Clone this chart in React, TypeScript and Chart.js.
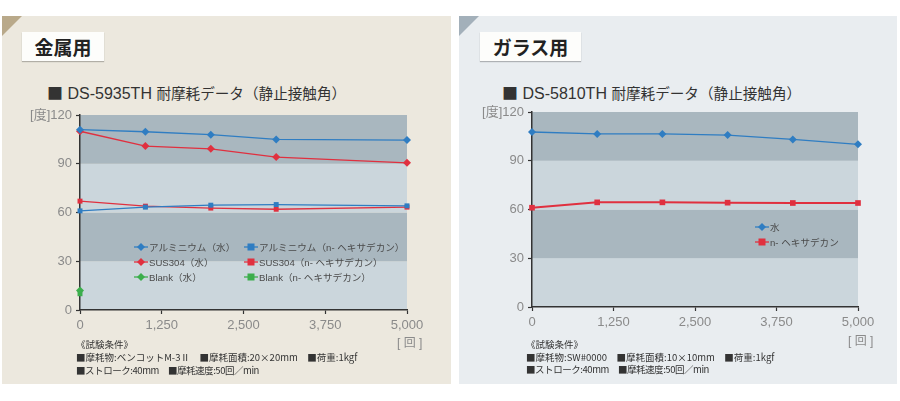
import React, { useEffect, useRef } from "react";
import { Chart, registerables } from "chart.js";
Chart.register(...registerables);

// ---------- data ----------
const Y_TICKS = [0, 30, 60, 90, 120];
const X_MAX = 5000;
const X_STEP = 1250;

// metal (DS-5935TH)
const metalCycles = [0, 1000, 2000, 3000, 5000];
const alWater = [111, 109.7, 107.9, 105, 104.6];
const alHex = [61, 63.3, 64.5, 64.9, 64.1];
const susWater = [110, 100.9, 99.2, 94.1, 90.6];
const susHex = [67, 63.9, 62.7, 62, 63.3];
const blankCycles = [0];
const blankWater = [12];
const blankHex = [10];

// glass (DS-5810TH)
const glassCycles = [0, 1000, 2000, 3000, 4000, 5000];
const glassWater = [107.7, 106.5, 106.5, 105.8, 103.1, 100.1];
const glassHex = [61.1, 64.4, 64.4, 64.2, 64, 64];

const metalLabels = [
  "アルミニウム（水）",
  "アルミニウム（n- ヘキサデカン）",
  "SUS304（水）",
  "SUS304（n- ヘキサデカン）",
  "Blank（水）",
  "Blank（n- ヘキサデカン）",
];
const glassLabels = ["水", "n- ヘキサデカン"];

// ---------- styles ----------
const BLUE = "#2f7dc2";
const RED = "#e0303f";
const GREEN = "#3cae4c";
const BAND_DARK = "#a9b7bf";
const BAND_LIGHT = "#cbd6dc";
const FONT = '"Liberation Sans", "Noto Sans CJK JP", sans-serif';
const JP = '"Noto Sans CJK JP", "Liberation Sans", sans-serif';

const pts = (xs: number[], ys: number[]) => xs.map((x, i) => ({ x, y: ys[i] }));

const bandPlugin = {
  id: "bands",
  beforeDraw(chart: any) {
    const { ctx, chartArea, scales } = chart;
    const y = scales.y;
    ctx.save();
    for (let i = 0; i < Y_TICKS.length - 1; i++) {
      const top = y.getPixelForValue(Y_TICKS[i + 1]);
      const bot = y.getPixelForValue(Y_TICKS[i]);
      ctx.fillStyle = i % 2 === 0 ? BAND_LIGHT : BAND_DARK;
      ctx.fillRect(chartArea.left, top, chartArea.right - chartArea.left, bot - top);
    }
    ctx.restore();
  },
};

function ds(label: string, xs: number[], ys: number[], color: string, style: string, width = 1.3, radius = 4) {
  return {
    label,
    data: pts(xs, ys),
    borderColor: color,
    backgroundColor: color,
    borderWidth: width,
    pointStyle: style,
    pointRadius: radius,
    pointBorderWidth: 0,
    pointBackgroundColor: color,
    clip: false as any,
    tension: 0,
  };
}

function makeOptions(yWidth: number, padRight: number, padTop: number, padBottom: number) {
  return {
    responsive: false,
    animation: false as const,
    layout: { padding: { left: 0, right: padRight, top: padTop, bottom: padBottom } },
    plugins: { legend: { display: false }, tooltip: { enabled: false } },
    scales: {
      x: {
        type: "linear" as const,
        min: 0,
        max: X_MAX,
        afterFit: (s: any) => {
          s.height = 30;
        },
        ticks: {
          stepSize: X_STEP,
          color: "#8a8a8a",
          font: { family: FONT, size: 13 },
          padding: 4,
          maxRotation: 0,
          callback: (v: any) => Number(v).toLocaleString("en-US"),
        },
        grid: { drawOnChartArea: false, drawTicks: true, tickLength: 4, tickColor: "#333", tickWidth: 1.2 },
        border: { color: "#333", width: 1.5 },
      },
      y: {
        type: "linear" as const,
        min: 0,
        max: 120,
        afterFit: (s: any) => {
          s.width = yWidth;
        },
        ticks: {
          stepSize: 30,
          color: "#8a8a8a",
          font: { family: FONT, size: 13 },
          padding: 4,
          callback: (v: any) => (v === 120 ? "[度]120" : String(v)),
        },
        grid: { drawOnChartArea: false, drawTicks: true, tickLength: 4, tickColor: "#333", tickWidth: 1.2 },
        border: { color: "#333", width: 1.5 },
      },
    },
  };
}

function ChartCanvas({ config, left, width }: { config: any; left: number; width: number }) {
  const ref = useRef<HTMLCanvasElement>(null);
  useEffect(() => {
    const c = new Chart(ref.current as HTMLCanvasElement, config);
    return () => c.destroy();
  }, []);
  return (
    <canvas
      ref={ref}
      width={width}
      height={401}
      style={{ position: "absolute", left, top: 0, width, height: 401 }}
    />
  );
}

function Marker({ color, shape }: { color: string; shape: "d" | "s" }) {
  return (
    <svg width={14} height={10} style={{ display: "block" }}>
      <line x1={0} y1={5} x2={14} y2={5} stroke={color} strokeWidth={1.3} />
      {shape === "d" ? (
        <polygon points="7,1 11,5 7,9 3,5" fill={color} />
      ) : (
        <rect x={3.5} y={1.5} width={7} height={7} fill={color} />
      )}
    </svg>
  );
}

function LegendItem({ x, y, color, shape, text }: any) {
  return (
    <div
      style={{
        position: "absolute",
        left: x - 7,
        top: y - 8,
        height: 16,
        display: "flex",
        alignItems: "center",
        whiteSpace: "nowrap",
        font: `9.6px ${FONT}`,
        color: "#4a4a4a",
      }}
    >
      <Marker color={color} shape={shape} />
      <span style={{ marginLeft: 1 }}>{text}</span>
    </div>
  );
}

function Abs({ x, y, children, style }: any) {
  return (
    <div style={{ position: "absolute", left: x, top: y, whiteSpace: "nowrap", ...style }}>{children}</div>
  );
}

function Title({ x, model }: { x: number; model: string }) {
  return (
    <Abs x={x} y={80} style={{ font: `16px ${FONT}`, color: "#333", lineHeight: "20px" }}>
      <span style={{ font: `16px ${JP}` }}>■</span>
      {` ${model} `}
      <span style={{ font: `14.6px ${JP}` }}>耐摩耗データ（静止接触角）</span>
    </Abs>
  );
}

export default function App() {
  const metalConfig = {
    type: "line",
    data: {
      datasets: [
        ds(metalLabels[0], metalCycles, alWater, BLUE, "rectRot"),
        ds(metalLabels[1], metalCycles, alHex, BLUE, "rect", 1.3, 3.5),
        ds(metalLabels[2], metalCycles, susWater, RED, "rectRot"),
        ds(metalLabels[3], metalCycles, susHex, RED, "rect", 1.3, 3.5),
        ds(metalLabels[4], blankCycles, blankWater, GREEN, "rectRot"),
        ds(metalLabels[5], blankCycles, blankHex, GREEN, "rect", 1.3, 3.5),
      ],
    },
    options: makeOptions(80, 43, 115, 61),
    plugins: [bandPlugin],
  };

  const glassConfig = {
    type: "line",
    data: {
      datasets: [
        ds(glassLabels[0], glassCycles, glassWater, BLUE, "rectRot"),
        ds(glassLabels[1], glassCycles, glassHex, RED, "rect", 2, 4),
      ],
    },
    options: makeOptions(82, 42, 112, 64),
    plugins: [bandPlugin],
  };

  const noteStyle = { font: `9.5px ${JP}`, color: "#333" };
  const note2Style = { ...noteStyle, letterSpacing: "-0.45px" };
  const boxStyle = {
    background: "#fdfdfb",
    boxShadow: "0 1px 1px rgba(0,0,0,0.25)",
    display: "flex",
    alignItems: "center",
    justifyContent: "center",
    font: `bold 19px ${JP}`,
    color: "#222",
  };

  return (
    <div style={{ position: "fixed", left: 0, top: 0, width: 900, height: 401, background: "#fff", overflow: "hidden" }}>
      {/* panels */}
      <div style={{ position: "absolute", left: 2, top: 16, width: 449, height: 368, background: "#ece8de" }} />
      <div style={{ position: "absolute", left: 2, top: 16, width: 0, height: 0, borderTop: "20px solid #b9a98a", borderRight: "20px solid transparent" }} />
      <div style={{ position: "absolute", left: 459, top: 16, width: 438, height: 368, background: "#e9edf0" }} />
      <div style={{ position: "absolute", left: 459, top: 16, width: 0, height: 0, borderTop: "20px solid #a3b0ba", borderRight: "20px solid transparent" }} />

      {/* header boxes */}
      <div style={{ position: "absolute", left: 22, top: 32, width: 82, height: 29, ...boxStyle }}>金属用</div>
      <div style={{ position: "absolute", left: 480, top: 32, width: 101, height: 29, ...boxStyle }}>ガラス用</div>

      <Title x={47} model="DS-5935TH" />
      <Title x={502} model="DS-5810TH" />

      <ChartCanvas config={metalConfig} left={0} width={450} />
      <ChartCanvas config={glassConfig} left={450} width={450} />

      {/* legends */}
      <LegendItem x={141} y={247} color={BLUE} shape="d" text={metalLabels[0]} />
      <LegendItem x={251} y={247} color={BLUE} shape="s" text={metalLabels[1]} />
      <LegendItem x={141} y={262} color={RED} shape="d" text={metalLabels[2]} />
      <LegendItem x={251} y={262} color={RED} shape="s" text={metalLabels[3]} />
      <LegendItem x={141} y={277} color={GREEN} shape="d" text={metalLabels[4]} />
      <LegendItem x={251} y={277} color={GREEN} shape="s" text={metalLabels[5]} />

      <LegendItem x={762} y={227} color={BLUE} shape="d" text={glassLabels[0]} />
      <LegendItem x={762} y={242} color={RED} shape="s" text={glassLabels[1]} />

      {/* unit labels */}
      <Abs x={397} y={333} style={{ font: `12px ${FONT}`, color: "#8a8a8a" }}>[ 回 ]</Abs>
      <Abs x={848} y={331} style={{ font: `12px ${FONT}`, color: "#8a8a8a" }}>[ 回 ]</Abs>

      {/* notes */}
      <Abs x={76} y={337} style={noteStyle}>《試験条件》</Abs>
      <Abs x={76} y={350} style={noteStyle}>■摩耗物:ベンコットM-3Ⅱ　■摩耗面積:20×20mm　■荷重:1kgf</Abs>
      <Abs x={76} y={363} style={note2Style}>■ストローク:40mm　■摩耗速度:50回／min</Abs>

      <Abs x={526} y={337} style={noteStyle}>《試験条件》</Abs>
      <Abs x={526} y={350} style={noteStyle}>■摩耗物:SW#0000　■摩耗面積:10×10mm　■荷重:1kgf</Abs>
      <Abs x={526} y={362} style={note2Style}>■ストローク:40mm　■摩耗速度:50回／min</Abs>
    </div>
  );
}
